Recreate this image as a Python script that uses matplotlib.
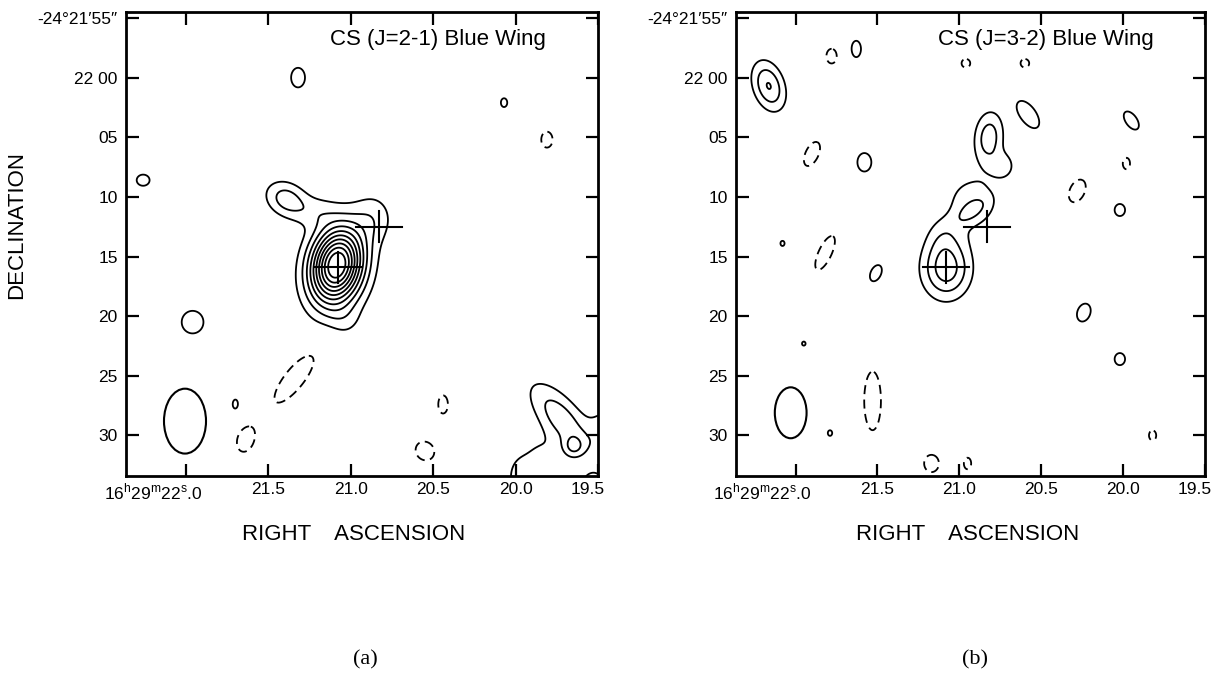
import numpy as np
import matplotlib
matplotlib.use("Agg")
import matplotlib.pyplot as plt
from matplotlib.patches import Ellipse

plt.rcParams["font.family"] = ["Liberation Sans", "DejaVu Sans"]
plt.rcParams["mathtext.fontset"] = "custom"
plt.rcParams["mathtext.rm"] = "Liberation Sans"

# axes: RA seconds (16h29m + s) and Dec seconds past -24d21m
RA_TICKS = [22.0, 21.5, 21.0, 20.5, 20.0, 19.5]
RA_LABELS = ["", "21.5", "21.0", "20.5", "20.0", ""]
DEC_TICKS = [55, 60, 65, 70, 75, 80, 85, 90]
DEC_LABELS = ["-24°21′55″", "22 00", "05", "10", "15", "20", "25", "30"]
ARCSEC_PER_S = 13.66  # 15 * cos(dec)

# source positions marked with crosses
CROSS_RA = [21.08, 20.83]
CROSS_DEC = [75.9, 72.5]

# panel (a): CS 2-1 emission components
A_RA = [21.085, 21.08, 21.04, 21.39, 21.21, 20.86, 21.32, 20.07, 19.81, 22.26,
        21.96, 21.34, 21.70, 21.64, 20.44, 20.55, 19.72, 19.65, 19.98, 19.85,
        19.45, 19.68, 19.52]
A_DEC = [75.7, 76.5, 80.4, 70.2, 71.2, 71.75, 60.0, 62.1, 65.2, 68.6,
         80.5, 85.2, 87.4, 90.4, 87.4, 91.3, 88.6, 91.0, 93.6, 92.0,
         89.8, 93.6, 94.1]
A_AMP = [10.4, 0.8, 0.7, 2.5, 1.0, 1.4, 1.4, 1.15, -1.25, 1.25,
         1.5, -1.5, 1.15, -1.35, -1.3, -1.4, 2.6, 2.0, 1.3, 1.2,
         1.6, 1.2, 2.3]
A_SX = [1.45, 2.2, 1.0, 1.3, 1.2, 1.2, 0.7, 0.5, 0.7, 0.8,
        1.0, 0.9, 0.45, 0.8, 0.55, 0.9, 1.1, 0.7, 0.7, 1.3,
        1.0, 1.8, 0.7]
A_SY = [2.2, 3.3, 1.0, 1.0, 0.9, 1.5, 1.0, 0.7, 1.0, 0.7,
        1.05, 2.8, 0.8, 1.2, 1.05, 1.0, 2.6, 0.7, 1.2, 1.5,
        1.6, 1.0, 0.8]
A_TILT = [12, 0, 0, 30, 0, 0, 0, 0, 0, 0,
          0, 38, 0, 15, 0, -40, -40, 0, 0, 0,
          0, 0, 0]

# panel (b): CS 3-2 emission components
B_RA = [22.164, 21.78, 21.63, 20.96, 20.60, 20.58, 20.82, 20.73, 19.95, 19.98,
        20.28, 20.02, 21.90, 21.58, 22.08, 21.82, 21.51, 21.08, 20.93, 20.92,
        21.10, 20.24, 20.02, 21.95, 21.79, 21.53, 21.17, 20.95, 19.82]
B_DEC = [60.7, 58.2, 57.6, 58.8, 58.8, 63.1, 65.05, 67.4, 63.6, 67.2,
         69.5, 71.1, 66.4, 67.1, 73.9, 74.7, 76.4, 76.0, 71.2, 70.5,
         73.3, 79.7, 83.6, 82.3, 89.8, 87.1, 92.35, 92.35, 90.0]
B_AMP = [3.05, -1.3, 1.3, -1.2, -1.2, 1.4, 2.6, 1.4, 1.3, -1.2,
         -1.35, 1.3, -1.35, 1.35, 1.1, -1.35, 1.3, 3.6, 1.3, 1.5,
         0.9, 1.35, 1.3, 1.1, 1.15, -1.4, -1.3, -1.2, -1.2]
B_SX = [0.9, 0.6, 0.55, 0.6, 0.6, 0.8, 0.85, 0.7, 0.65, 0.5,
        0.8, 0.6, 0.7, 0.75, 0.4, 0.7, 0.6, 1.4, 0.5, 1.7,
        1.0, 0.7, 0.6, 0.35, 0.35, 0.85, 0.85, 0.5, 0.5]
B_SY = [1.5, 0.85, 0.95, 0.6, 0.6, 1.6, 1.55, 0.8, 1.2, 0.8,
        1.3, 0.7, 1.4, 1.0, 0.5, 2.0, 1.0, 1.75, 1.05, 1.8,
        1.2, 1.0, 0.7, 0.4, 0.45, 3.0, 1.0, 0.8, 0.7]
B_TILT = [-18, 0, 0, 0, 0, -35, 5, 0, -35, 0,
          25, 0, 25, 0, 0, 25, 25, 0, 55, 0,
          0, 20, 0, 0, 0, 0, 0, 0, 0]

# synthesized beams (RA width in s, Dec height in arcsec)
BEAM_RA = [22.006, 22.03]
BEAM_DEC = [88.8, 88.1]
BEAM_W = [0.255, 0.194]
BEAM_H = [5.44, 4.27]

TITLES = ["CS (J=2-1) Blue Wing", "CS (J=3-2) Blue Wing"]
POS_LEVELS = [1, 2, 3, 4, 5, 6, 7, 8, 9, 10]
NEG_LEVELS = [-1]


def model_field(ra, dec, amp, sx, sy, tilt, RA, DEC):
    f = np.zeros_like(RA)
    for r0, d0, a, w, h, t in zip(ra, dec, amp, sx, sy, tilt):
        u = -(RA - r0) * ARCSEC_PER_S
        v = -(DEC - d0)
        th = np.radians(t)
        along = u * np.sin(th) + v * np.cos(th)
        across = u * np.cos(th) - v * np.sin(th)
        f += a * np.exp(-0.5 * (across / w) ** 2 - 0.5 * (along / h) ** 2)
    return f


def draw_panel(ax, comps, beam_idx, title):
    ra_grid = np.linspace(19.2, 22.6, 600)
    dec_grid = np.linspace(52.0, 97.0, 600)
    RA, DEC = np.meshgrid(ra_grid, dec_grid)
    field = model_field(*comps, RA, DEC)

    ax.contour(RA, DEC, field, levels=POS_LEVELS, colors="k", linewidths=1.3)
    neg = ax.contour(RA, DEC, field, levels=NEG_LEVELS, colors="k",
                     linewidths=1.3)
    neg.set_linestyle((0, (5, 3)))

    ax.add_patch(Ellipse((BEAM_RA[beam_idx], BEAM_DEC[beam_idx]), BEAM_W[beam_idx],
                         BEAM_H[beam_idx], fill=False, ec="k", lw=1.5))

    for cr, cd in zip(CROSS_RA, CROSS_DEC):
        ax.plot([cr + 0.14, cr - 0.14], [cd, cd], color="k", lw=1.5)
        ax.plot([cr, cr], [cd - 1.3, cd + 1.3], color="k", lw=1.5)

    ax.set_xlim(22.364, 19.5)
    ax.set_ylim(93.4, 54.5)
    ax.set_xticks(RA_TICKS)
    ax.set_xticklabels(RA_LABELS)
    ax.set_yticks(DEC_TICKS)
    ax.set_yticklabels(DEC_LABELS)
    ax.tick_params(direction="in", length=9, width=1.6, labelsize=12.5,
                   top=True, right=True, pad=6)
    ax.tick_params(axis="x", pad=4)
    for sp in ax.spines.values():
        sp.set_linewidth(2)

    ax.annotate(r"16$^{\mathrm{h}}$29$^{\mathrm{m}}$22$^{\mathrm{s}}$.0",
                xy=(22.0, 93.4), xytext=(12, -4), textcoords="offset points",
                ha="right", va="top", fontsize=12.5)
    ax.annotate("19.5", xy=(19.5, 93.4), xytext=(5, -4),
                textcoords="offset points", ha="right", va="top", fontsize=12.5)
    ax.text(0.66, 0.94, title, transform=ax.transAxes, ha="center",
            va="center", fontsize=16)


fig = plt.figure(figsize=(12.14, 6.86), dpi=100)
ax_a = fig.add_axes([126 / 1214, 1 - 476 / 686, 472 / 1214, 464 / 686])
ax_b = fig.add_axes([736 / 1214, 1 - 476 / 686, 469 / 1214, 464 / 686])

draw_panel(ax_a, (A_RA, A_DEC, A_AMP, A_SX, A_SY, A_TILT), 0, TITLES[0])
draw_panel(ax_b, (B_RA, B_DEC, B_AMP, B_SX, B_SY, B_TILT), 1, TITLES[1])

fig.text(354 / 1214, 1 - 535 / 686, "RIGHT    ASCENSION", ha="center",
         va="center", fontsize=16)
fig.text(968 / 1214, 1 - 535 / 686, "RIGHT    ASCENSION", ha="center",
         va="center", fontsize=16)
fig.text(17 / 1214, 1 - 225 / 686, "DECLINATION", rotation=90, ha="center",
         va="center", fontsize=16)
fig.text(365 / 1214, 1 - 660 / 686, "(a)", ha="center", va="center",
         fontsize=16, family="Liberation Serif")
fig.text(975 / 1214, 1 - 660 / 686, "(b)", ha="center", va="center",
         fontsize=16, family="Liberation Serif")

fig.savefig("out.png", dpi=100, facecolor="white")
